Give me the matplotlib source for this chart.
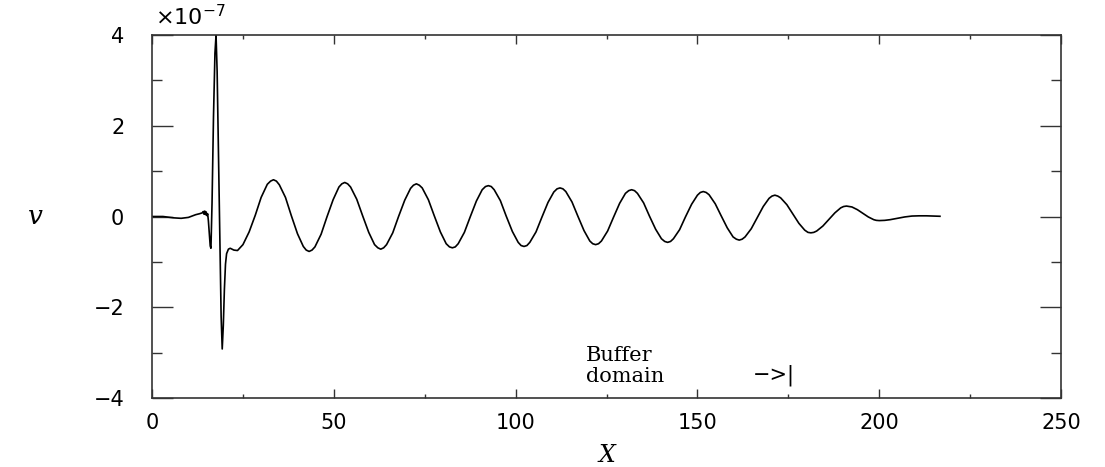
import matplotlib
matplotlib.use("Agg")
import matplotlib.pyplot as plt
from matplotlib.ticker import MultipleLocator

# values (v in units of 1e-7)
x_start = [0.0, 3.0, 6.0, 8.0, 10.0, 12.0, 13.0, 13.8, 14.1, 14.3, 14.5, 14.7, 14.9,
           15.1, 15.3, 15.5, 15.8, 16.0]
v_start = [0.0, 0.0, -0.03, -0.04, -0.02, 0.04, 0.06, 0.08, 0.11, 0.05, 0.12, 0.04, 0.10,
           0.02, 0.06, -0.10, -0.45, -0.65]

x_spike = [16.2, 16.5, 16.9, 17.3, 17.6, 17.9, 18.3, 18.7, 19.0, 19.3, 19.6, 19.9,
           20.2, 20.5, 21.0, 21.5, 22.5, 23.5]
v_spike = [-0.70, 0.3, 2.2, 3.6, 4.0, 3.2, 1.2, -0.8, -2.2, -2.92, -2.4, -1.6,
           -1.05, -0.82, -0.72, -0.70, -0.74, -0.75]

x_waves = [25.0, 26.7, 28.4, 30.0, 31.7, 32.6, 33.4,
           34.2, 35.0, 36.7, 38.3, 40.0, 41.6, 42.4, 43.2,
           44.0, 44.8, 46.5, 48.1, 49.8, 51.4, 52.2, 53.0,
           53.8, 54.6, 56.3, 57.9, 59.6, 61.2, 62.1, 62.9,
           63.7, 64.5, 66.2, 67.8, 69.5, 71.1, 71.9, 72.7,
           73.5, 74.3, 76.0, 77.6, 79.3, 80.9, 81.8, 82.6,
           83.4, 84.2, 85.9, 87.5, 89.2, 90.8, 91.7, 92.5,
           93.3, 94.1, 95.8, 97.4, 99.1, 100.7, 101.5, 102.3,
           103.1, 103.9, 105.6, 107.2, 108.9, 110.5, 111.4, 112.2,
           113.0, 113.8, 115.5, 117.1, 118.8, 120.4, 121.2, 122.0,
           122.8, 123.6, 125.3, 126.9, 128.6, 130.2, 131.1, 131.9,
           132.7, 133.5, 135.2, 136.8, 138.5, 140.1, 141.0, 141.8,
           142.6, 143.4, 145.1, 146.7, 148.4, 150.0, 150.8, 151.6,
           152.4, 153.2, 154.9, 156.5, 158.2, 159.8, 160.7, 161.5,
           162.3, 163.1, 164.8, 166.4, 168.1, 169.7, 170.5, 171.3,
           172.1, 172.9, 174.6, 176.2, 177.9, 179.5, 180.4, 181.2,
           182.0, 182.8, 184.5, 186.1, 187.8, 189.4, 190.2, 191.0,
           191.8, 192.5, 194.0, 195.5, 197.0, 198.5, 199.2, 200.0]
v_waves = [-0.62, -0.34, 0.03, 0.42, 0.71, 0.78, 0.81,
           0.78, 0.70, 0.42, 0.02, -0.38, -0.66, -0.74, -0.77,
           -0.74, -0.67, -0.39, -0.01, 0.37, 0.65, 0.72, 0.75,
           0.72, 0.65, 0.38, 0.02, -0.35, -0.62, -0.69, -0.72,
           -0.69, -0.62, -0.36, 0.0, 0.36, 0.62, 0.69, 0.72,
           0.69, 0.63, 0.37, 0.02, -0.34, -0.60, -0.67, -0.69,
           -0.67, -0.60, -0.35, -0.01, 0.34, 0.59, 0.66, 0.68,
           0.66, 0.59, 0.35, 0.01, -0.33, -0.57, -0.64, -0.66,
           -0.64, -0.57, -0.34, -0.02, 0.31, 0.54, 0.61, 0.63,
           0.61, 0.55, 0.32, 0.01, -0.31, -0.54, -0.60, -0.62,
           -0.60, -0.54, -0.32, -0.02, 0.29, 0.51, 0.57, 0.59,
           0.57, 0.51, 0.30, 0.01, -0.28, -0.49, -0.55, -0.57,
           -0.55, -0.49, -0.29, -0.01, 0.27, 0.47, 0.53, 0.55,
           0.53, 0.48, 0.28, 0.02, -0.25, -0.45, -0.50, -0.52,
           -0.50, -0.45, -0.27, -0.03, 0.22, 0.40, 0.45, 0.47,
           0.45, 0.41, 0.26, 0.06, -0.15, -0.30, -0.35, -0.36,
           -0.35, -0.32, -0.21, -0.07, 0.08, 0.19, 0.22, 0.23,
           0.22, 0.21, 0.15, 0.07, -0.01, -0.07, -0.085, -0.09]

x_tail = [200.8, 201.5, 203.0, 205.0, 207.0, 209.0, 211.0, 213.0, 215.0, 216.7]
v_tail = [-0.088, -0.085, -0.07, -0.04, -0.01, 0.01, 0.015, 0.015, 0.01, 0.005]

x_all = x_start + x_spike + x_waves + x_tail
v_all = v_start + v_spike + v_waves + v_tail

fig = plt.figure(figsize=(11.05, 4.67), dpi=100)
ax = fig.add_axes([0.1376, 0.1478, 0.8226, 0.7772])

ax.plot(x_all, v_all, color="black", linewidth=1.2, solid_joinstyle="round")

ax.set_xlim(0, 250)
ax.set_ylim(-4, 4)
ax.xaxis.set_major_locator(MultipleLocator(50))
ax.xaxis.set_minor_locator(MultipleLocator(25))
ax.yaxis.set_major_locator(MultipleLocator(2))
ax.yaxis.set_minor_locator(MultipleLocator(1))

ax.tick_params(axis="both", which="both", direction="in", top=True, right=True,
               color="#333333", width=1.0)
ax.tick_params(axis="x", which="major", length=6.5, pad=11, labelsize=15)
ax.tick_params(axis="x", which="minor", length=3.2)
ax.tick_params(axis="y", which="major", length=15, pad=20, labelsize=15)
ax.tick_params(axis="y", which="minor", length=7.5)
for s in ax.spines.values():
    s.set_linewidth(1.2)
    s.set_color("#333333")

ax.set_xlabel("X", fontsize=17, family="DejaVu Serif", style="italic", labelpad=8)
ax.set_ylabel("v", fontsize=19, family="DejaVu Serif", style="italic", rotation=0,
              labelpad=42, va="center")

ax.text(0.003, 1.015, r"$\times10^{-7}$", transform=ax.transAxes, fontsize=16,
        ha="left", va="bottom")

ax.text(119.4, -3.19, "Buffer", fontsize=15, family="DejaVu Serif",
        ha="left", va="baseline")
ax.text(119.4, -3.65, "domain", fontsize=15, family="DejaVu Serif",
        ha="left", va="baseline")
ax.text(165.3, -3.62, "\u2212>|", fontsize=15, family="DejaVu Sans",
        ha="left", va="baseline")

fig.savefig("out.png", dpi=100)
